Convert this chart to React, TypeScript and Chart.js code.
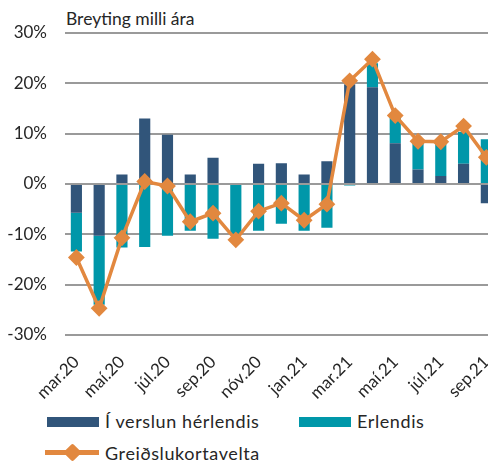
import React, { useEffect, useRef } from "react";
import { Chart, registerables } from "chart.js";

Chart.register(...registerables);

const categories = [
  "mar.20", "apr.20", "maí.20", "jún.20", "júl.20", "ágú.20", "sep.20", "okt.20", "nóv.20", "des.20",
  "jan.21", "feb.21", "mar.21", "apr.21", "maí.21", "jún.21", "júl.21", "ágú.21", "sep.21",
];
const domestic = [-5.7, -10.3, 1.9, 13.0, 9.8, 1.9, 5.2, 0, 4.0, 4.1, 1.9, 4.5, 19.8, 19.2, 8.1, 2.9, 1.6, 4.0, -3.8];
const abroad = [-7.7, -13.7, -12.6, -12.5, -10.3, -9.3, -10.9, -10.1, -9.3, -7.9, -9.3, -8.7, -0.3, 4.8, 5.3, 5.5, 6.5, 6.4, 8.9];
const total = [-14.6, -24.7, -10.7, 0.5, -0.4, -7.5, -5.8, -11.1, -5.4, -3.8, -7.2, -4.0, 20.5, 24.8, 13.6, 8.5, 8.4, 11.5, 5.3];
const yTicks = [-30, -20, -10, 0, 10, 20, 30];

const seriesNames = ["Í verslun hérlendis", "Erlendis", "Greiðslukortavelta"];
const title = "Breyting milli ára";

const DARK = "#31557A";
const TEAL = "#0097A9";
const ORANGE = "#E2883F";
const FONT = "Lato, 'Open Sans', sans-serif";
const TEXT = "#262626";

export default function App() {
  const ref = useRef<HTMLCanvasElement | null>(null);
  useEffect(() => {
    if (!ref.current) return;
    const chart = new Chart(ref.current, {
      type: "bar",
      data: {
        labels: categories,
        datasets: [
          { type: "line", label: seriesNames[2], data: total, borderColor: ORANGE, backgroundColor: ORANGE,
            borderWidth: 3.5, pointStyle: "rectRot", pointRadius: 7, pointBorderWidth: 2,
            pointBackgroundColor: ORANGE, pointBorderColor: ORANGE, tension: 0, order: 0, stack: "line" } as any,
          { label: seriesNames[0], data: domestic, backgroundColor: DARK, stack: "s", order: 1,
            categoryPercentage: 1, barPercentage: 0.49 } as any,
          { label: seriesNames[1], data: abroad, backgroundColor: TEAL, stack: "s", order: 1,
            categoryPercentage: 1, barPercentage: 0.49 } as any,
        ],
      },
      options: {
        animation: false,
        responsive: false,
        layout: { padding: { top: 33, right: 0, left: 0, bottom: 0 } },
        plugins: { legend: { display: false }, tooltip: { enabled: false }, title: { display: false } },
        scales: {
          x: {
            stacked: true,
            grid: { display: false },
            border: { display: false },
            ticks: {
              autoSkip: false, maxRotation: 45, minRotation: 45, color: TEXT, padding: 9,
              font: { family: FONT, size: 17 },
              callback: (_v: any, i: number) => (i % 2 === 0 ? categories[i] : ""),
            },
            afterFit: (s: any) => { s.height = 65; },
          },
          y: {
            stacked: true,
            min: yTicks[0], max: yTicks[yTicks.length - 1],
            afterBuildTicks: (s: any) => { s.ticks = yTicks.map((v) => ({ value: v })); },
            grid: { color: "#9a9a9a", lineWidth: 2, drawTicks: false },
            border: { display: false },
            ticks: { color: TEXT, padding: 18, font: { family: FONT, size: 17 }, callback: (v: any) => v + "%" },
            afterFit: (s: any) => { s.width = 65; },
          },
        },
      },
    });
    return () => chart.destroy();
  }, []);

  const legendText: React.CSSProperties = { position: "absolute", fontFamily: FONT, fontSize: 18, letterSpacing: "0.6px", color: TEXT, lineHeight: "20px", whiteSpace: "nowrap" };
  return (
    <div style={{ position: "fixed", left: 0, top: 0, width: 488, height: 461, overflow: "hidden", background: "#fff" }}>
      <div style={{ position: "absolute", left: 66, top: 8, fontFamily: FONT, fontSize: 17.5, color: TEXT, whiteSpace: "nowrap" }}>{title}</div>
      <canvas ref={ref} width={510} height={400} style={{ position: "absolute", left: 0, top: 0 }} />
      <div style={{ position: "absolute", left: 47, top: 417, width: 52, height: 10, background: DARK }} />
      <div style={{ ...legendText, left: 105, top: 411 }}>{seriesNames[0]}</div>
      <div style={{ position: "absolute", left: 299, top: 417, width: 52, height: 10, background: TEAL }} />
      <div style={{ ...legendText, left: 357, top: 411 }}>{seriesNames[1]}</div>
      <div style={{ position: "absolute", left: 45, top: 450, width: 54, height: 4.5, background: ORANGE }} />
      <div style={{ position: "absolute", left: 65.5, top: 445.5, width: 13, height: 13, background: ORANGE, transform: "rotate(45deg)", borderRadius: 2 }} />
      <div style={{ ...legendText, left: 105, top: 443 }}>{seriesNames[2]}</div>
    </div>
  );
}
